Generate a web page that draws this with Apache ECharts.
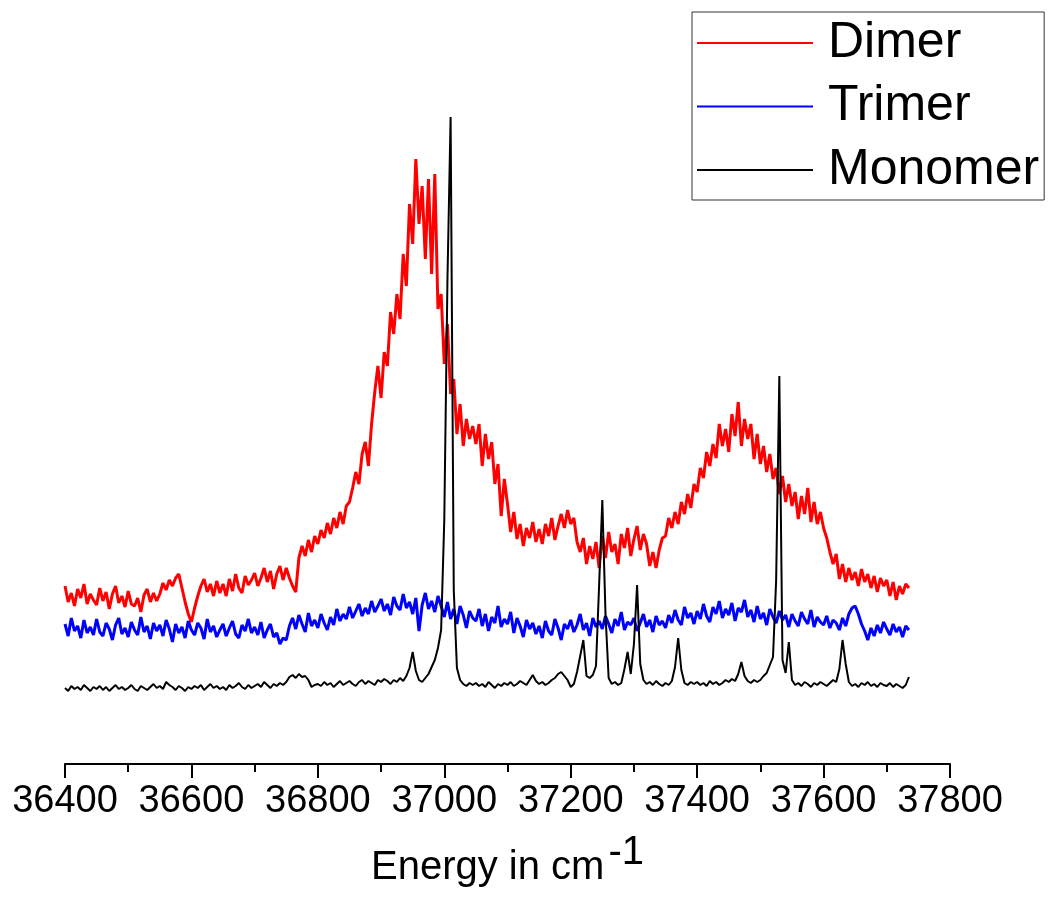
<!DOCTYPE html>
<html>
<head>
<meta charset="utf-8">
<script src="https://cdn.jsdelivr.net/npm/echarts@6/dist/echarts.min.js"></script>
<style>
html,body{margin:0;padding:0;background:#fff;}
#chart{width:1049px;height:913px;}
</style>
</head>
<body>
<div id="chart"></div>
<script>
// Energy grid (cm^-1): regular sampling
const energyStart = 36400;
const energyStep = 5;

// Series names
const seriesNames = ['Dimer', 'Trimer', 'Monomer'];

// Intensities (arbitrary units), one value per energy sample
const dimer = [
178,162,171,158,175,166,180,160,170,164,
159,176,163,172,155,170,178,161,168,157,
173,160,158,166,152,169,175,162,171,163,
170,181,174,184,178,186,190,176,162,150,
142,156,168,178,185,172,180,168,183,171,
180,168,185,173,190,176,171,188,179,184,
191,178,186,196,182,193,175,190,198,184,
196,186,178,172,206,218,208,224,212,228,
220,234,226,241,230,246,236,252,240,258,
262,276,292,280,310,322,298,340,372,398,
366,412,398,452,430,470,445,510,478,560,
520,605,540,578,505,585,490,590,455,470,
400,440,370,385,330,360,318,345,325,338,
320,340,298,330,305,322,280,300,248,285,
260,232,252,225,240,218,236,226,242,222,
235,220,240,228,246,224,238,250,236,254,
240,246,222,212,226,200,218,205,222,196,
228,206,232,212,220,200,230,216,236,208,
225,238,214,230,220,198,212,196,214,226,
228,246,236,252,240,262,250,270,256,280,
272,296,286,312,298,320,306,340,318,335,
312,350,328,362,318,345,325,340,305,330,
300,318,292,310,285,296,270,288,262,280,
258,272,245,268,250,276,242,262,240,252,
236,226,212,200,210,185,200,182,196,184,
192,178,195,182,190,176,188,172,186,178,
184,168,182,164,178,170,180,176
];

const trimer = [
140,128,146,133,138,126,144,131,137,129,
145,132,128,141,135,124,139,146,130,136,
127,142,134,129,147,132,138,125,141,133,
139,128,144,135,122,140,131,137,126,143,
134,129,141,136,125,145,132,138,127,134,
140,128,136,143,130,126,139,133,145,131,
137,129,142,126,134,140,127,131,120,126,
124,138,146,135,149,140,132,151,138,144,
136,150,141,134,147,139,155,143,150,145,
157,146,153,160,148,156,150,163,152,158,
165,153,160,149,167,158,154,170,156,162,
150,166,133,159,171,155,163,152,168,158,
147,162,145,155,140,158,149,136,153,146,
143,155,138,150,133,147,141,158,137,145,
140,152,131,146,138,127,144,135,141,130,
138,126,143,133,129,145,136,124,140,135,
144,132,139,150,134,141,128,146,137,143,
135,148,140,131,145,138,152,134,142,139,
146,133,141,150,137,144,132,148,139,143,
136,149,141,154,144,139,157,146,151,140,
153,145,160,148,142,157,150,163,146,155,
149,161,143,156,152,164,147,154,142,158,
145,151,139,155,147,141,153,144,149,137,
150,143,138,152,145,140,154,137,147,142,
139,148,136,144,141,134,146,138,150,156,
158,150,140,133,124,136,128,139,131,142,
135,129,140,132,137,127,138,134
];

const monomer = [
76,73,78,75,77,74,79,76,73,77,
75,78,74,77,73,76,79,75,77,74,
76,79,75,73,78,76,74,77,80,76,
78,75,82,79,77,74,78,76,73,77,
75,78,76,79,74,77,80,76,78,75,
77,74,79,76,78,81,77,75,79,76,
78,80,77,82,79,76,80,78,81,79,
82,87,89,86,90,87,88,84,77,79,
80,78,82,79,81,77,80,83,79,81,
83,80,78,82,84,80,83,81,79,84,
82,85,83,80,84,82,86,83,88,96,
112,93,84,82,86,90,97,104,116,134,
244,484,647,174,96,84,80,78,81,79,
81,78,80,77,82,79,76,80,78,81,
79,82,78,80,83,81,79,84,89,83,
80,82,79,81,84,86,90,92,88,84,
77,80,92,108,124,88,86,89,98,180,
264,150,86,80,82,79,81,95,112,90,
120,179,100,84,80,82,79,83,80,78,
81,79,83,97,126,94,81,79,82,80,
82,79,81,78,83,80,82,79,81,84,
82,85,83,90,102,88,83,81,84,82,
84,88,91,99,107,184,388,104,91,122,
84,79,81,78,82,80,77,81,79,82,
80,78,81,84,82,95,124,100,82,78,
80,77,81,79,82,78,80,77,81,79,
78,81,77,80,78,76,79,87
];

// Axis settings
const xMin = 36400, xMax = 37800, xInterval = 200;
const yMin = 0, yMax = 700;
const colors = ['#ff0000', '#0000ff', '#000000'];
const widths = [3, 3, 2];

const energy = dimer.map((_, i) => energyStart + i * energyStep);
const toPairs = arr => arr.map((v, i) => [energy[i], v]);

const FONT = '"Liberation Sans", Arial, sans-serif';

const chart = echarts.init(document.getElementById('chart'), null, {renderer: 'canvas'});
chart.setOption({
  animation: false,
  backgroundColor: '#ffffff',
  grid: {left: 65, right: 99, top: 64, bottom: 149, containLabel: false},
  legend: {
    orient: 'vertical',
    left: 692,
    top: 12,
    padding: [6, 5, 5, 5],
    icon: 'rect',
    itemWidth: 116,
    itemHeight: 2,
    itemGap: 13.5,
    borderColor: '#333',
    borderWidth: 1,
    borderRadius: 0,
    backgroundColor: '#fff',
    textStyle: {fontFamily: FONT, fontSize: 50, lineHeight: 50, color: '#000', padding: [0, 0, 0, 10]},
    data: seriesNames
  },
  xAxis: {
    type: 'value',
    min: xMin, max: xMax, interval: xInterval,
    name: '{a|Energy in cm}{b|-1}',
    nameLocation: 'middle',
    nameGap: 84,
    nameTextStyle: {
      rich: {
        a: {fontFamily: FONT, fontSize: 40, lineHeight: 40, color: '#000', verticalAlign: 'bottom'},
        b: {fontFamily: FONT, fontSize: 40, lineHeight: 40, color: '#000', verticalAlign: 'bottom', padding: [0, 0, 15, 4]}
      }
    },
    axisLine: {show: true, onZero: false, lineStyle: {color: '#000', width: 2}},
    axisTick: {show: true, inside: false, length: 14, lineStyle: {color: '#000', width: 2}},
    minorTick: {show: true, splitNumber: 2, length: 8, lineStyle: {color: '#000', width: 2}},
    axisLabel: {fontFamily: FONT, fontSize: 38, color: '#000', margin: 19, formatter: v => String(v)},
    splitLine: {show: false}
  },
  yAxis: {
    type: 'value', min: yMin, max: yMax, show: false
  },
  series: seriesNames.map((name, k) => ({
    name: name,
    type: 'line',
    symbol: 'none',
    silent: true,
    data: toPairs([dimer, trimer, monomer][k]),
    lineStyle: {color: colors[k], width: widths[k]},
    itemStyle: {color: colors[k]},
    z: 2 + k
  }))
});
</script>
</body>
</html>
